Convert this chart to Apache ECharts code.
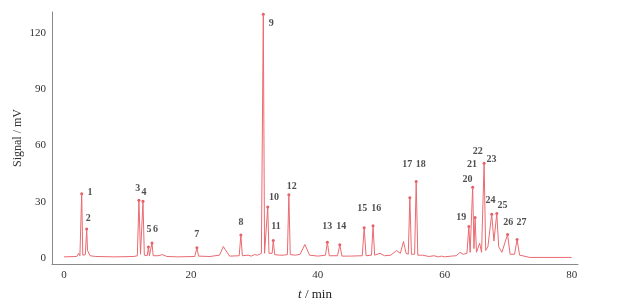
<!DOCTYPE html>
<html>
<head>
<meta charset="utf-8">
<script src="https://cdn.jsdelivr.net/npm/echarts@6/dist/echarts.min.js"></script>
<style>
  html, body { margin: 0; padding: 0; background: #fff; }
  #chart { width: 618px; height: 306px; }
</style>
</head>
<body>
<div id="chart"></div>
<script>
// chromatogram trace [t (min), signal (mV)]
const trace = [
  [0, 0.6], [2.0, 0.8], [2.3, 2.5], [2.5, 1.2], [2.65, 1.2], [2.78, 34.2], [2.95, 1.5],
  [3.35, 1.8], [3.57, 15.4], [3.7, 4], [3.85, 4.2], [4.1, 1.2], [5, 0.8], [8, 0.6],
  [11, 0.8], [11.55, 1.2], [11.8, 30.7], [12.05, 2], [12.25, 2], [12.44, 30.2], [12.65, 1.5],
  [13.1, 1.2], [13.3, 5.8], [13.45, 1.2], [13.7, 1.5], [13.86, 8], [14.05, 1.2], [14.8, 1.2],
  [15.5, 1.8], [16.2, 0.8], [18, 0.6], [20.6, 0.8], [20.94, 5.4], [21.2, 1], [23, 0.8],
  [24.5, 1.5], [25.1, 6.1], [25.4, 4.5], [25.6, 4.5], [26.1, 1], [27.6, 1.2], [27.87, 12.3],
  [28.1, 1.2], [29, 1.5], [29.5, 1], [30, 1.8], [30.5, 1.5], [31.1, 2.5], [31.4, 129.8],
  [31.6, 2.5], [31.9, 2.5], [32.1, 27.2], [32.3, 2.5], [32.8, 2.5], [32.97, 9.3], [33.2, 1.8],
  [34, 1.5], [34.5, 1.5], [35.2, 1.8], [35.43, 33.7], [35.65, 1.8], [36.5, 1.5], [37.2, 2],
  [37.95, 7.2], [38.7, 1.5], [40, 1], [41.2, 1.5], [41.5, 8.4], [41.8, 1.2], [43.1, 1.2],
  [43.46, 7], [43.8, 1], [45, 1], [47, 1.2], [47.3, 16.1], [47.6, 1.2], [48.45, 1.5],
  [48.7, 17.2], [48.95, 1.5], [49.8, 2.5], [50.5, 1.2], [51.5, 1.5], [52.4, 4], [53, 2.5],
  [53.5, 8.8], [53.9, 2.5], [54.25, 2], [54.5, 32.1], [54.75, 2], [55.25, 2], [55.5, 40.7],
  [55.75, 1.5], [56.5, 1.5], [57.5, 0.8], [58.3, 1.2], [59, 0.6], [59.5, 1], [60, 0.6],
  [61, 1], [61.8, 1.2], [62.4, 3], [62.9, 2], [63.2, 3], [63.5, 2.5], [63.8, 16.8],
  [64.0, 3], [64.15, 3], [64.4, 37.7], [64.6, 5], [64.78, 21.6], [65.0, 3], [65.3, 3],
  [65.5, 7.9], [65.8, 3], [66.0, 3], [66.2, 50.5], [66.45, 4], [66.8, 6], [67.4, 23.3],
  [67.75, 9], [68.0, 10], [68.2, 23.7], [68.5, 6], [68.8, 5], [69.0, 3], [69.3, 3],
  [69.9, 12.5], [70.3, 2], [71.0, 2], [71.4, 9.8], [71.8, 1.5], [72.5, 1], [73.4, 0.3],
  [80, 0.3]
];

// peak apexes (marked with a dot)
const apexes = [
  [2.78, 34.2], [3.57, 15.4], [11.8, 30.7], [12.44, 30.2], [13.3, 5.8], [13.86, 8],
  [20.94, 5.4], [27.87, 12.3], [31.4, 129.8], [32.1, 27.2], [32.97, 9.3], [35.43, 33.7],
  [41.5, 8.4], [43.46, 7], [47.3, 16.1], [48.7, 17.2], [54.5, 32.1], [55.5, 40.7],
  [63.8, 16.8], [64.4, 37.7], [64.78, 21.6], [66.2, 50.5], [67.4, 23.3], [68.2, 23.7],
  [69.9, 12.5], [71.4, 9.8]
];

// peak numbers and where they sit [t, signal]
const peakNames = ['1', '2', '3', '4', '5', '6', '7', '8', '9', '10', '11', '12', '13', '14',
  '15', '16', '17', '18', '19', '20', '21', '22', '23', '24', '25', '26', '27'];
const peakLabelAt = [
  [4.09, 34.7], [3.83, 21.2], [11.6, 37], [12.6, 34.7], [13.4, 15.4], [14.4, 15.4],
  [20.9, 12.3], [27.9, 18.9], [32.65, 125], [33.07, 32.1], [33.4, 16.8], [35.9, 38.3],
  [41.5, 16.8], [43.7, 16.8], [47.0, 26.3], [49.2, 26.3], [54.1, 49.6], [56.2, 49.6],
  [62.6, 21.6], [63.6, 42.1], [64.3, 49.6], [65.2, 56.7], [67.35, 52.3], [67.2, 30.7],
  [69.1, 28], [70.0, 18.9], [72.1, 18.9]
];

const xTicks = [0, 20, 40, 60, 80];
const yTicks = [0, 30, 60, 90, 120];

const serif = '"Liberation Serif", "DejaVu Serif", serif';
const lineColor = '#ea6a70';

const chart = echarts.init(document.getElementById('chart'));

chart.setOption({
  animation: false,
  grid: { left: 52, right: 40, top: 12, bottom: 39 },
  xAxis: {
    type: 'value',
    min: -1.9,
    max: 81,
    name: '{i|t} / min',
    nameLocation: 'middle',
    nameGap: 24,
    nameMoveOverlap: false,
    nameTextStyle: {
      fontFamily: serif, fontSize: 13, color: '#222',
      rich: { i: { fontStyle: 'italic', fontFamily: serif, fontSize: 13, color: '#222' } }
    },
    axisLine: { onZero: false, lineStyle: { color: '#888', width: 1 } },
    axisTick: { show: false },
    splitLine: { show: false },
    axisLabel: {
      customValues: xTicks,
      margin: 6,
      fontFamily: serif, fontSize: 11, color: '#333'
    }
  },
  yAxis: {
    type: 'value',
    min: -3.2,
    max: 131,
    name: 'Signal / mV',
    nameLocation: 'middle',
    nameGap: 28,
    nameMoveOverlap: false,
    nameTextStyle: { fontFamily: serif, fontSize: 12, color: '#333' },
    axisLine: { show: true, onZero: false, lineStyle: { color: '#888', width: 1 } },
    axisTick: { show: false },
    splitLine: { show: false },
    axisLabel: {
      customValues: yTicks,
      margin: 6,
      fontFamily: serif, fontSize: 11, color: '#333'
    }
  },
  series: [
    {
      type: 'line',
      data: trace,
      showSymbol: false,
      lineStyle: { color: lineColor, width: 1 },
      silent: true
    },
    {
      type: 'scatter',
      data: apexes,
      symbolSize: 3,
      itemStyle: { color: '#d8333a' },
      silent: true
    },
    {
      type: 'scatter',
      data: peakLabelAt.map((p, i) => ({ value: p, name: peakNames[i] })),
      symbolSize: 0,
      silent: true,
      label: {
        show: true,
        position: 'inside',
        formatter: (p) => p.name,
        fontFamily: serif,
        fontWeight: 'bold',
        fontSize: 10,
        color: '#222'
      }
    }
  ]
});
</script>
</body>
</html>
